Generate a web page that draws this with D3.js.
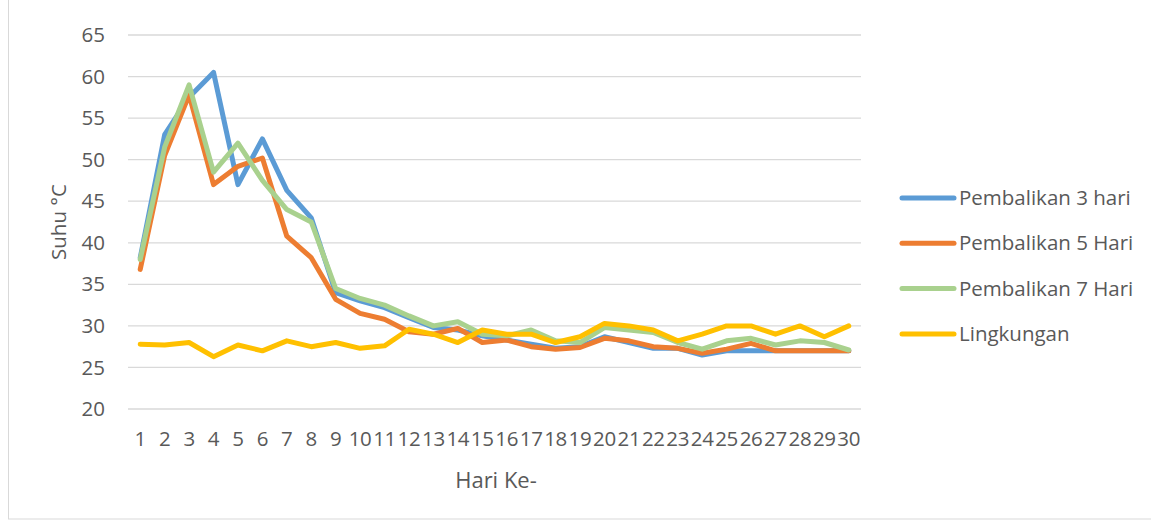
<!DOCTYPE html>
<html><head><meta charset="utf-8">
<script src="https://cdn.jsdelivr.net/npm/d3@7"></script>
<style>body{margin:0;background:#fff;} text{font-family:"Open Sans",sans-serif;fill:#595959;}</style>
</head><body>
<svg id="c" width="1151" height="523"></svg>
<script>
const days = d3.range(1, 31).map(String);
const yTicks = [20,25,30,35,40,45,50,55,60,65];
const seriesNames = ["Pembalikan 3 hari","Pembalikan 5 Hari","Pembalikan 7 Hari","Lingkungan"];
const p3 = [38.2,53,57.5,60.5,47,52.5,46.3,43,34,33,32.2,31,29.8,29.5,28.8,28.3,27.8,27.3,27.5,28.7,28,27.3,27.3,26.5,27,27,27,27,27,27];
const p5 = [36.8,50.5,57.8,47,49.2,50.2,40.8,38.2,33.2,31.5,30.8,29.3,29,29.7,28,28.3,27.5,27.2,27.4,28.5,28.2,27.5,27.3,26.7,27.2,27.9,27,27,27,27];
const p7 = [38,51.5,59,48.5,52,47.5,44,42.5,34.5,33.3,32.5,31.2,30,30.5,29,28.8,29.5,28.2,28,29.8,29.5,29.2,28,27.2,28.2,28.5,27.7,28.2,28,27.1];
const env = [27.8,27.7,28,26.3,27.7,27,28.2,27.5,28,27.3,27.6,29.6,29,28,29.5,29,29,28,28.7,30.3,30,29.5,28.2,29,30,30,29,30,28.7,30];
const colors = ["#5B9BD5","#ED7D31","#A9D18E","#FFC000"];
const data = [p3,p5,p7,env];

const svg = d3.select("#c");
svg.append("rect").attr("x",8.5).attr("y",-1).attr("width",1150).attr("height",520)
  .attr("fill","none").attr("stroke","#d9d9d9");

const x = d3.scaleBand().domain(days).range([128,861]);
const y = d3.scaleLinear().domain([20,65]).range([409,35]);

svg.append("g").selectAll("line").data(yTicks).join("line")
  .attr("x1",128).attr("x2",861).attr("y1",d=>y(d)).attr("y2",d=>y(d))
  .attr("stroke","#d9d9d9").attr("stroke-width",1.3);

const yAxis = svg.append("g").attr("transform","translate(128,0)")
  .call(d3.axisLeft(y).tickValues(yTicks).tickSize(0).tickPadding(23));
yAxis.select(".domain").remove();
yAxis.selectAll("text").attr("font-size",20.5).attr("fill","#595959").style("font-family","'Open Sans',sans-serif");

const xAxis = svg.append("g").attr("transform","translate(0,409)")
  .call(d3.axisBottom(x).tickSize(0).tickPadding(22));
xAxis.select(".domain").remove();
xAxis.selectAll("text").attr("font-size",20.5).attr("fill","#595959").attr("letter-spacing",-0.3).style("font-family","'Open Sans',sans-serif");

const line = d3.line().x((d,i)=>x(days[i])+x.bandwidth()/2).y(d=>y(d));
data.forEach((s,k)=>{
  svg.append("path").attr("d",line(s)).attr("fill","none").attr("stroke",colors[k])
    .attr("stroke-width",5).attr("stroke-linejoin","round").attr("stroke-linecap","round");
});

svg.append("text").attr("transform","translate(66,222) rotate(-90)").attr("text-anchor","middle")
  .attr("font-size",20.5).text("Suhu °C");
svg.append("text").attr("x",496).attr("y",488).attr("text-anchor","middle").attr("font-size",22).text("Hari Ke-");

const lg = svg.append("g");
seriesNames.forEach((n,k)=>{
  const yy = 198 + k*45.3;
  lg.append("line").attr("x1",902).attr("x2",954).attr("y1",yy).attr("y2",yy)
    .attr("stroke",colors[k]).attr("stroke-width",5).attr("stroke-linecap","round");
  lg.append("text").attr("x",959).attr("y",yy).attr("dy","0.35em").attr("font-size",20.5).text(n);
});
</script>
</body></html>
